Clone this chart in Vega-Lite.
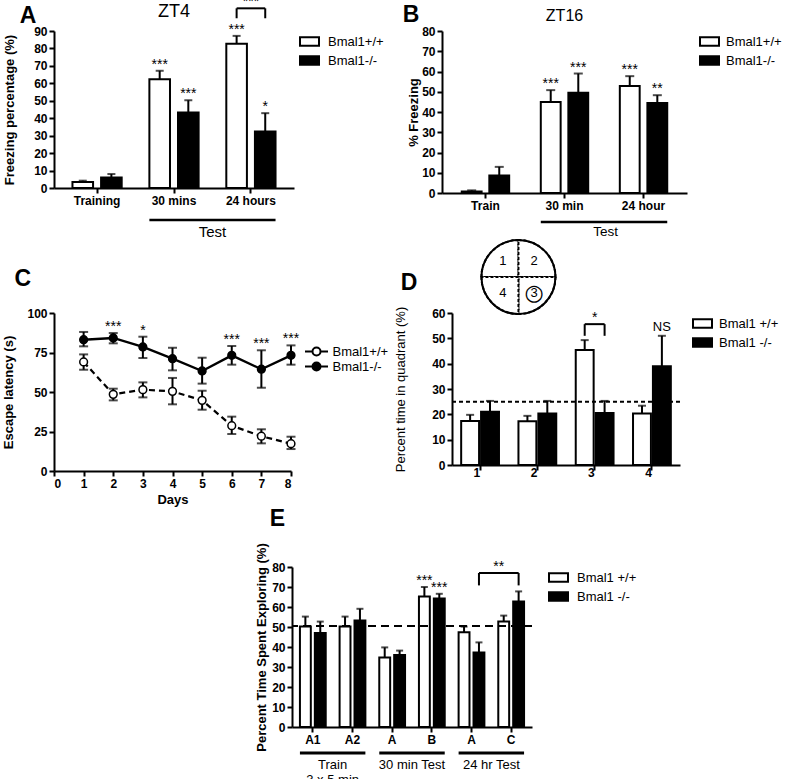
{
  "$schema": "https://vega.github.io/schema/vega-lite/v6.json",
  "background": "white",
  "padding": {"left": 2, "top": -5, "right": 0, "bottom": 0},
  "config": {
    "font": "Liberation Sans",
    "view": {"stroke": null},
    "mark": {"color": "#000"},
    "axis": {"domainColor": "#000", "domainWidth": 2, "tickColor": "#000", "tickWidth": 2, "tickSize": 5, "labelColor": "#000", "labelFontWeight": "bold", "labelFontSize": 12, "labelPadding": 2, "labelOverlap": false, "titleFontWeight": "bold", "titleFontSize": 13, "titleColor": "#000", "grid": false},
    "legend": {"labelFontSize": 13, "labelColor": "#000", "symbolStrokeColor": "#000", "symbolStrokeWidth": 2, "rowPadding": 0},
    "title": {"fontSize": 23, "fontWeight": "bold", "color": "#000", "anchor": "start", "frame": "bounds", "baseline": "alphabetic"},
    "text": {"color": "#000"}
  },
  "resolve": {"scale": {"fill": "independent", "xOffset": "independent", "theta": "independent"}, "legend": {"fill": "independent"}},
  "datasets": {
    "aBars": [
      {"g": "Training", "geno": "Bmal1+/+", "v": 3.5, "err": 4.2, "sig": ""},
      {"g": "Training", "geno": "Bmal1-/-", "v": 6, "err": 8, "sig": ""},
      {"g": "30 mins", "geno": "Bmal1+/+", "v": 62.3, "err": 67.2, "sig": "***"},
      {"g": "30 mins", "geno": "Bmal1-/-", "v": 43.3, "err": 50.3, "sig": "***"},
      {"g": "24 hours", "geno": "Bmal1+/+", "v": 82.7, "err": 87.2, "sig": "***"},
      {"g": "24 hours", "geno": "Bmal1-/-", "v": 32.4, "err": 42.9, "sig": "*"}
    ],
    "aLegs": [
      {"g": "24 hours", "geno": "Bmal1+/+", "top": 103, "bot": 97.3},
      {"g": "24 hours", "geno": "Bmal1-/-", "top": 103, "bot": 97.3}
    ],
    "aBrk": [{"g": "24 hours", "top": 103, "sig": "***"}],
    "aHead": [{"g": "30 mins", "y": 101, "label": "ZT4"}],
    "aGrp": [{"g1": "30 mins", "g2": "24 hours", "line": -18.3, "ly": -25.3, "label": "Test"}],
    "bBars": [
      {"g": "Train", "geno": "Bmal1+/+", "v": 0.8, "err": 1.3, "sig": ""},
      {"g": "Train", "geno": "Bmal1-/-", "v": 8.7, "err": 12.9, "sig": ""},
      {"g": "30 min", "geno": "Bmal1+/+", "v": 44.9, "err": 50.8, "sig": "***"},
      {"g": "30 min", "geno": "Bmal1-/-", "v": 49.5, "err": 59, "sig": "***"},
      {"g": "24 hour", "geno": "Bmal1+/+", "v": 52.8, "err": 57.7, "sig": "***"},
      {"g": "24 hour", "geno": "Bmal1-/-", "v": 44.5, "err": 48.3, "sig": "**"}
    ],
    "bHead": [{"g": "30 min", "y": 87.6, "label": "ZT16"}],
    "bGrp": [{"g1": "30 min", "g2": "24 hour", "line": -14.3, "ly": -19.3, "label": "Test"}],
    "cData": [
      {"day": 1, "geno": "Bmal1+/+", "v": 69, "lo": 64.1, "hi": 73.8, "sig": ""},
      {"day": 2, "geno": "Bmal1+/+", "v": 48.5, "lo": 44.7, "hi": 52.1, "sig": ""},
      {"day": 3, "geno": "Bmal1+/+", "v": 51.5, "lo": 46.6, "hi": 56.1, "sig": ""},
      {"day": 4, "geno": "Bmal1+/+", "v": 50.4, "lo": 42.2, "hi": 58.9, "sig": ""},
      {"day": 5, "geno": "Bmal1+/+", "v": 44.7, "lo": 38.8, "hi": 50.8, "sig": ""},
      {"day": 6, "geno": "Bmal1+/+", "v": 28.7, "lo": 23.4, "hi": 34.4, "sig": ""},
      {"day": 7, "geno": "Bmal1+/+", "v": 22, "lo": 17.5, "hi": 26.4, "sig": ""},
      {"day": 8, "geno": "Bmal1+/+", "v": 17.3, "lo": 13.9, "hi": 21.7, "sig": ""},
      {"day": 1, "geno": "Bmal1-/-", "v": 83.1, "lo": 78.9, "hi": 88, "sig": ""},
      {"day": 2, "geno": "Bmal1-/-", "v": 84.2, "lo": 80.8, "hi": 87.3, "sig": "***"},
      {"day": 3, "geno": "Bmal1-/-", "v": 78.5, "lo": 71.5, "hi": 85, "sig": "*"},
      {"day": 4, "geno": "Bmal1-/-", "v": 71.1, "lo": 63.7, "hi": 78, "sig": ""},
      {"day": 5, "geno": "Bmal1-/-", "v": 63.3, "lo": 55.3, "hi": 71.7, "sig": ""},
      {"day": 6, "geno": "Bmal1-/-", "v": 73.2, "lo": 67.3, "hi": 79.1, "sig": "***"},
      {"day": 7, "geno": "Bmal1-/-", "v": 64.4, "lo": 52.7, "hi": 76.4, "sig": "***"},
      {"day": 8, "geno": "Bmal1-/-", "v": 73.2, "lo": 67.3, "hi": 79.5, "sig": "***"}
    ],
    "quads": [
      {"q": "1", "v": 1}, {"q": "2", "v": 1}, {"q": "3", "v": 1}, {"q": "4", "v": 1}
    ],
    "dBars": [
      {"q": "1", "geno": "Bmal1 +/+", "v": 17.4, "err": 19.8, "sig": ""},
      {"q": "1", "geno": "Bmal1 -/-", "v": 21, "err": 25.3, "sig": ""},
      {"q": "2", "geno": "Bmal1 +/+", "v": 17.3, "err": 19.4, "sig": ""},
      {"q": "2", "geno": "Bmal1 -/-", "v": 20.3, "err": 25.3, "sig": ""},
      {"q": "3", "geno": "Bmal1 +/+", "v": 45.4, "err": 49.3, "sig": ""},
      {"q": "3", "geno": "Bmal1 -/-", "v": 20.5, "err": 25.3, "sig": ""},
      {"q": "4", "geno": "Bmal1 +/+", "v": 20.3, "err": 23.4, "sig": ""},
      {"q": "4", "geno": "Bmal1 -/-", "v": 39, "err": 51, "sig": "NS"}
    ],
    "dLegs": [
      {"q": "3", "geno": "Bmal1 +/+", "top": 55.6, "bot": 51},
      {"q": "3", "geno": "Bmal1 -/-", "top": 55.6, "bot": 51}
    ],
    "dBrk": [{"q": "3", "top": 55.6, "sig": "*"}],
    "dChance": [{"chance": 25}],
    "eBars": [
      {"g": "A1", "geno": "Bmal1 +/+", "v": 50.2, "err": 55.2, "sig": ""},
      {"g": "A1", "geno": "Bmal1 -/-", "v": 47, "err": 52.7, "sig": ""},
      {"g": "A2", "geno": "Bmal1 +/+", "v": 50.2, "err": 55.2, "sig": ""},
      {"g": "A2", "geno": "Bmal1 -/-", "v": 53.2, "err": 59.1, "sig": ""},
      {"g": "A_30", "geno": "Bmal1 +/+", "v": 34.8, "err": 39.8, "sig": ""},
      {"g": "A_30", "geno": "Bmal1 -/-", "v": 36, "err": 38.2, "sig": ""},
      {"g": "B", "geno": "Bmal1 +/+", "v": 65.3, "err": 70, "sig": "***"},
      {"g": "B", "geno": "Bmal1 -/-", "v": 64.3, "err": 66.6, "sig": "***"},
      {"g": "A_24", "geno": "Bmal1 +/+", "v": 47.4, "err": 50.2, "sig": ""},
      {"g": "A_24", "geno": "Bmal1 -/-", "v": 37.3, "err": 42.3, "sig": ""},
      {"g": "C", "geno": "Bmal1 +/+", "v": 52.7, "err": 55.7, "sig": ""},
      {"g": "C", "geno": "Bmal1 -/-", "v": 62.8, "err": 67.8, "sig": ""}
    ],
    "eLegs": [
      {"g": "A_24", "geno": "Bmal1 -/-", "top": 77, "bot": 70.8},
      {"g": "C", "geno": "Bmal1 -/-", "top": 77, "bot": 70.8}
    ],
    "eBrk": [{"g1": "A_24", "g2": "C", "top": 77, "sig": "**"}],
    "eChance": [{"chance": 50.5}],
    "eGrp": [
      {"g1": "A1", "g2": "A2", "line": -13, "ly": -15.8, "label": ["Train", "3 x 5 min"]},
      {"g1": "A_30", "g2": "B", "line": -13, "ly": -15.8, "label": ["30 min Test"]},
      {"g1": "A_24", "g2": "C", "line": -13, "ly": -15.8, "label": ["24 hr Test"]}
    ]
  },
  "vconcat": [
    {
      "resolve": {"scale": {"fill": "independent", "xOffset": "independent"}, "legend": {"fill": "independent"}},
      "hconcat": [
        {
          "title": {"text": "A", "dx": 16, "offset": -33},
          "width": 240, "height": 157,
          "layer": [
            {"data": {"name": "aBars"}, "mark": {"type": "bar", "stroke": "#000", "strokeWidth": 2},
             "encoding": {
               "x": {"field": "g", "type": "nominal", "scale": {"domain": ["Training", "30 mins", "24 hours"], "paddingInner": 0.36, "paddingOuter": 0.24}, "axis": {"title": null, "labelAngle": 0}},
               "xOffset": {"field": "geno", "type": "nominal", "scale": {"domain": ["Bmal1+/+", "Bmal1-/-"], "paddingInner": 0.28}},
               "y": {"field": "v", "type": "quantitative", "scale": {"domain": [0, 90], "nice": false}, "axis": {"title": "Freezing percentage (%)", "values": [0, 10, 20, 30, 40, 50, 60, 70, 80, 90], "tickCount": 20, "titlePadding": 17}},
               "fill": {"field": "geno", "type": "nominal", "scale": {"domain": ["Bmal1+/+", "Bmal1-/-"], "range": ["#ffffff", "#000000"]}, "legend": {"title": null, "orient": "right", "offset": 5, "symbolType": "M-1,-0.45H1V0.45H-1Z", "symbolSize": 361, "labelOffset": 8}}
             }},
            {"data": {"name": "aBars"}, "mark": {"type": "rule", "strokeWidth": 2},
             "encoding": {"x": {"field": "g", "type": "nominal"}, "xOffset": {"field": "geno", "type": "nominal"}, "y": {"field": "v", "type": "quantitative"}, "y2": {"field": "err"}}},
            {"data": {"name": "aBars"}, "mark": {"type": "tick", "orient": "horizontal", "size": 8, "thickness": 2},
             "encoding": {"x": {"field": "g", "type": "nominal"}, "xOffset": {"field": "geno", "type": "nominal"}, "y": {"field": "err", "type": "quantitative"}}},
            {"data": {"name": "aBars"}, "mark": {"type": "text", "fontSize": 14, "baseline": "alphabetic", "dy": -2, "color": "#000"},
             "encoding": {"x": {"field": "g", "type": "nominal"}, "xOffset": {"field": "geno", "type": "nominal"}, "y": {"field": "err", "type": "quantitative"}, "text": {"field": "sig"}}},
            {"data": {"name": "aLegs"}, "mark": {"type": "rule", "strokeWidth": 2},
             "encoding": {"x": {"field": "g", "type": "nominal"}, "xOffset": {"field": "geno", "type": "nominal"}, "y": {"field": "top", "type": "quantitative"}, "y2": {"field": "bot"}}},
            {"data": {"name": "aBrk"}, "mark": {"type": "rule", "strokeWidth": 2},
             "encoding": {"x": {"field": "g", "type": "nominal", "bandPosition": 0.21}, "x2": {"field": "g", "bandPosition": 0.79}, "y": {"field": "top", "type": "quantitative"}}},
            {"data": {"name": "aBrk"}, "mark": {"type": "text", "fontSize": 14, "baseline": "alphabetic", "dy": -2, "color": "#000"},
             "encoding": {"x": {"field": "g", "type": "nominal"}, "y": {"field": "top", "type": "quantitative"}, "text": {"field": "sig"}}},
            {"data": {"name": "aHead"}, "mark": {"type": "text", "fontSize": 18, "baseline": "middle", "color": "#000"},
             "encoding": {"x": {"field": "g", "type": "nominal"}, "y": {"field": "y", "type": "quantitative"}, "text": {"field": "label"}}},
            {"data": {"name": "aGrp"}, "mark": {"type": "rule", "strokeWidth": 2.5},
             "encoding": {"x": {"field": "g1", "type": "nominal", "bandPosition": 0}, "x2": {"field": "g2", "bandPosition": 1}, "y": {"field": "line", "type": "quantitative"}}},
            {"data": {"name": "aGrp"}, "mark": {"type": "text", "fontSize": 15, "baseline": "middle", "color": "#000"},
             "encoding": {"x": {"field": "g2", "type": "nominal", "bandPosition": -0.28}, "y": {"field": "ly", "type": "quantitative"}, "text": {"field": "label"}}}
          ]
        },
        {
          "title": {"text": "B", "dx": -5, "offset": -19},
          "width": 245, "height": 162,
          "layer": [
            {"data": {"name": "bBars"}, "mark": {"type": "bar", "stroke": "#000", "strokeWidth": 2},
             "encoding": {
               "x": {"field": "g", "type": "nominal", "scale": {"domain": ["Train", "30 min", "24 hour"], "paddingInner": 0.4, "paddingOuter": 0.25}, "axis": {"title": null, "labelAngle": 0}},
               "xOffset": {"field": "geno", "type": "nominal", "scale": {"domain": ["Bmal1+/+", "Bmal1-/-"], "paddingInner": 0.28}},
               "y": {"field": "v", "type": "quantitative", "scale": {"domain": [0, 80], "nice": false}, "axis": {"title": "% Freezing", "values": [0, 10, 20, 30, 40, 50, 60, 70, 80], "tickCount": 20, "titlePadding": 1}},
               "fill": {"field": "geno", "type": "nominal", "scale": {"domain": ["Bmal1+/+", "Bmal1-/-"], "range": ["#ffffff", "#000000"]}, "legend": {"title": null, "orient": "right", "offset": 12, "symbolType": "M-1,-0.45H1V0.45H-1Z", "symbolSize": 361, "labelOffset": 6}}
             }},
            {"data": {"name": "bBars"}, "mark": {"type": "rule", "strokeWidth": 2},
             "encoding": {"x": {"field": "g", "type": "nominal"}, "xOffset": {"field": "geno", "type": "nominal"}, "y": {"field": "v", "type": "quantitative"}, "y2": {"field": "err"}}},
            {"data": {"name": "bBars"}, "mark": {"type": "tick", "orient": "horizontal", "size": 9, "thickness": 2},
             "encoding": {"x": {"field": "g", "type": "nominal"}, "xOffset": {"field": "geno", "type": "nominal"}, "y": {"field": "err", "type": "quantitative"}}},
            {"data": {"name": "bBars"}, "mark": {"type": "text", "fontSize": 14, "baseline": "alphabetic", "dy": -2, "color": "#000"},
             "encoding": {"x": {"field": "g", "type": "nominal"}, "xOffset": {"field": "geno", "type": "nominal"}, "y": {"field": "err", "type": "quantitative"}, "text": {"field": "sig"}}},
            {"data": {"name": "bHead"}, "mark": {"type": "text", "fontSize": 16, "baseline": "middle", "color": "#000"},
             "encoding": {"x": {"field": "g", "type": "nominal"}, "y": {"field": "y", "type": "quantitative"}, "text": {"field": "label"}}},
            {"data": {"name": "bGrp"}, "mark": {"type": "rule", "strokeWidth": 2.5},
             "encoding": {"x": {"field": "g1", "type": "nominal", "bandPosition": 0}, "x2": {"field": "g2", "bandPosition": 1}, "y": {"field": "line", "type": "quantitative"}}},
            {"data": {"name": "bGrp"}, "mark": {"type": "text", "fontSize": 13.5, "baseline": "middle", "color": "#000"},
             "encoding": {"x": {"field": "g2", "type": "nominal", "bandPosition": -0.3}, "y": {"field": "ly", "type": "quantitative"}, "text": {"field": "label"}}}
          ]
        }
      ],
      "spacing": 18
    },
    {
      "resolve": {"scale": {"fill": "independent", "xOffset": "independent", "theta": "independent"}, "legend": {"fill": "independent"}},
      "vconcat": [
        {
          "resolve": {"scale": {"fill": "independent", "xOffset": "independent", "theta": "independent"}, "legend": {"fill": "independent"}},
          "hconcat": [
            {
              "title": {"text": "C", "dx": 12, "offset": 16},
              "width": 237, "height": 158,
              "data": {"name": "cData"},
              "layer": [
                {"mark": {"type": "rule", "strokeWidth": 2},
                 "encoding": {
                   "x": {"field": "day", "type": "quantitative", "scale": {"domain": [0, 8], "nice": false}, "axis": {"title": "Days", "values": [0, 1, 2, 3, 4, 5, 6, 7, 8], "format": "d", "tickCount": 20, "titlePadding": 4}},
                   "y": {"field": "lo", "type": "quantitative", "scale": {"domain": [0, 100], "nice": false}, "axis": {"title": "Escape latency (s)", "values": [0, 25, 50, 75, 100], "format": "d", "tickCount": 20, "titlePadding": 11.5}},
                   "y2": {"field": "hi"}}},
                {"mark": {"type": "tick", "orient": "horizontal", "size": 9, "thickness": 2},
                 "encoding": {"x": {"field": "day", "type": "quantitative"}, "y": {"field": "lo", "type": "quantitative"}}},
                {"mark": {"type": "tick", "orient": "horizontal", "size": 9, "thickness": 2},
                 "encoding": {"x": {"field": "day", "type": "quantitative"}, "y": {"field": "hi", "type": "quantitative"}}},
                {"transform": [{"filter": "datum.geno == 'Bmal1+/+'"}],
                 "mark": {"type": "line", "strokeWidth": 2.2, "strokeDash": [6, 4]},
                 "encoding": {"x": {"field": "day", "type": "quantitative"}, "y": {"field": "v", "type": "quantitative"}}},
                {"transform": [{"filter": "datum.geno == 'Bmal1-/-'"}],
                 "mark": {"type": "line", "strokeWidth": 2.4},
                 "encoding": {"x": {"field": "day", "type": "quantitative"}, "y": {"field": "v", "type": "quantitative"}}},
                {"mark": {"type": "point", "filled": true, "size": 60, "stroke": "#000", "strokeWidth": 1.5, "opacity": 1},
                 "encoding": {"x": {"field": "day", "type": "quantitative"}, "y": {"field": "v", "type": "quantitative"},
                   "fill": {"field": "geno", "type": "nominal", "scale": {"domain": ["Bmal1+/+", "Bmal1-/-"], "range": ["#ffffff", "#000000"]},
                     "legend": {"title": null, "orient": "none", "legendX": 256, "legendY": 32, "rowPadding": -5, "symbolType": "M-2.3,0H-0.8M0.8,0H2.3M0.8,0A0.8,0.8,0,1,1,-0.8,0A0.8,0.8,0,1,1,0.8,0", "symbolSize": 100, "labelOffset": 9.5}}}},
                {"mark": {"type": "text", "fontSize": 14, "baseline": "alphabetic", "dy": -2, "color": "#000"},
                 "encoding": {"x": {"field": "day", "type": "quantitative"}, "y": {"field": "hi", "type": "quantitative"}, "text": {"field": "sig"}}}
              ]
            },
            {
              "title": {"text": "D", "dx": 6, "offset": -59},
              "width": 228, "height": 152,
              "layer": [
                {"data": {"name": "quads"},
                 "mark": {"type": "arc", "outerRadius": 37, "fill": "#ffffff", "stroke": "#000", "strokeWidth": 2, "strokeDash": [3, 2]},
                 "encoding": {"x": {"datum": "2", "type": "nominal", "bandPosition": 0}, "y": {"datum": 74.2, "type": "quantitative"},
                   "theta": {"field": "v", "type": "quantitative", "stack": true, "scale": {"range": [-1.5708, 4.7124]}}, "order": {"field": "q", "type": "ordinal"}}},
                {"data": {"name": "quads"},
                 "mark": {"type": "arc", "outerRadius": 37, "fillOpacity": 0, "stroke": "#000", "strokeWidth": 2},
                 "encoding": {"x": {"datum": "2", "type": "nominal", "bandPosition": 0}, "y": {"datum": 74.2, "type": "quantitative"},
                   "theta": {"aggregate": "sum", "field": "v", "type": "quantitative"}}},
                {"data": {"name": "quads"},
                 "mark": {"type": "text", "radius": 22, "fontSize": 13, "baseline": "middle", "color": "#000"},
                 "encoding": {"x": {"datum": "2", "type": "nominal", "bandPosition": 0}, "y": {"datum": 74.2, "type": "quantitative"},
                   "theta": {"field": "v", "type": "quantitative", "stack": true}, "order": {"field": "q", "type": "ordinal"}, "text": {"field": "q"}}},
                {"data": {"name": "quads"},
                 "mark": {"type": "text", "radius": 22, "fontSize": 22, "font": "DejaVu Sans", "baseline": "middle", "color": "#000"},
                 "encoding": {"x": {"datum": "2", "type": "nominal", "bandPosition": 0}, "y": {"datum": 74.2, "type": "quantitative"},
                   "theta": {"field": "v", "type": "quantitative", "stack": true}, "order": {"field": "q", "type": "ordinal"}, "text": {"condition": {"test": "datum.q == '3'", "value": "○"}, "value": ""}}},
                {"data": {"name": "dBars"}, "mark": {"type": "bar", "stroke": "#000", "strokeWidth": 2},
                 "encoding": {
                   "x": {"field": "q", "type": "nominal", "scale": {"domain": ["1", "2", "3", "4"], "paddingInner": 0.34, "paddingOuter": 0.16}, "axis": {"title": null, "labelAngle": 0}},
                   "xOffset": {"field": "geno", "type": "nominal", "scale": {"domain": ["Bmal1 +/+", "Bmal1 -/-"], "paddingInner": 0.1}},
                   "y": {"field": "v", "type": "quantitative", "scale": {"domain": [0, 60], "nice": false}, "axis": {"title": "Percent time in quadrant (%)", "titleFontWeight": "normal", "values": [0, 10, 20, 30, 40, 50, 60], "tickCount": 20, "titlePadding": 24}},
                   "fill": {"field": "geno", "type": "nominal", "scale": {"domain": ["Bmal1 +/+", "Bmal1 -/-"], "range": ["#ffffff", "#000000"]}, "legend": {"title": null, "orient": "right", "offset": 12, "symbolType": "M-1,-0.45H1V0.45H-1Z", "symbolSize": 361, "labelOffset": 6}}
                 }},
                {"data": {"name": "dBars"}, "mark": {"type": "rule", "strokeWidth": 2},
                 "encoding": {"x": {"field": "q", "type": "nominal"}, "xOffset": {"field": "geno", "type": "nominal"}, "y": {"field": "v", "type": "quantitative"}, "y2": {"field": "err"}}},
                {"data": {"name": "dBars"}, "mark": {"type": "tick", "orient": "horizontal", "size": 8, "thickness": 2},
                 "encoding": {"x": {"field": "q", "type": "nominal"}, "xOffset": {"field": "geno", "type": "nominal"}, "y": {"field": "err", "type": "quantitative"}}},
                {"data": {"name": "dBars"}, "mark": {"type": "text", "fontSize": 13, "baseline": "alphabetic", "dy": -5, "color": "#000"},
                 "encoding": {"x": {"field": "q", "type": "nominal"}, "xOffset": {"field": "geno", "type": "nominal"}, "y": {"field": "err", "type": "quantitative"}, "text": {"field": "sig"}}},
                {"data": {"name": "dChance"}, "mark": {"type": "rule", "strokeWidth": 2, "strokeDash": [4, 3]},
                 "encoding": {"y": {"field": "chance", "type": "quantitative"}}},
                {"data": {"name": "dLegs"}, "mark": {"type": "rule", "strokeWidth": 2},
                 "encoding": {"x": {"field": "q", "type": "nominal"}, "xOffset": {"field": "geno", "type": "nominal"}, "y": {"field": "top", "type": "quantitative"}, "y2": {"field": "bot"}}},
                {"data": {"name": "dBrk"}, "mark": {"type": "rule", "strokeWidth": 2},
                 "encoding": {"x": {"field": "q", "type": "nominal", "bandPosition": 0.237}, "x2": {"field": "q", "bandPosition": 0.763}, "y": {"field": "top", "type": "quantitative"}}},
                {"data": {"name": "dBrk"}, "mark": {"type": "text", "fontSize": 14, "baseline": "alphabetic", "dy": -2, "color": "#000"},
                 "encoding": {"x": {"field": "q", "type": "nominal"}, "y": {"field": "top", "type": "quantitative"}, "text": {"field": "sig"}}}
              ]
            }
          ],
          "spacing": 5
        },
        {
          "resolve": {"scale": {"fill": "independent", "xOffset": "independent"}, "legend": {"fill": "independent"}},
          "hconcat": [
            {"width": 201, "height": 10, "data": {"values": []}, "mark": "point"},
            {
              "title": {"text": "E", "dx": 14, "offset": 12},
              "width": 240, "height": 160,
              "layer": [
                {"data": {"name": "eBars"}, "mark": {"type": "bar", "stroke": "#000", "strokeWidth": 2},
                 "encoding": {
                   "x": {"field": "g", "type": "nominal", "scale": {"domain": ["A1", "A2", "A_30", "B", "A_24", "C"], "paddingInner": 0.35, "paddingOuter": 0.2}, "axis": {"title": null, "labelAngle": 0, "labelExpr": "split(datum.label, '_')[0]"}},
                   "xOffset": {"field": "geno", "type": "nominal", "scale": {"domain": ["Bmal1 +/+", "Bmal1 -/-"], "paddingInner": 0.27}},
                   "y": {"field": "v", "type": "quantitative", "scale": {"domain": [0, 80], "nice": false}, "axis": {"title": "Percent Time Spent Exploring (%)", "values": [0, 10, 20, 30, 40, 50, 60, 70, 80], "tickCount": 20, "titlePadding": 3}},
                   "fill": {"field": "geno", "type": "nominal", "scale": {"domain": ["Bmal1 +/+", "Bmal1 -/-"], "range": ["#ffffff", "#000000"]}, "legend": {"title": null, "orient": "right", "offset": 16, "symbolType": "M-1,-0.45H1V0.45H-1Z", "symbolSize": 361, "labelOffset": 8}}
                 }},
                {"data": {"name": "eBars"}, "mark": {"type": "rule", "strokeWidth": 2},
                 "encoding": {"x": {"field": "g", "type": "nominal"}, "xOffset": {"field": "geno", "type": "nominal"}, "y": {"field": "v", "type": "quantitative"}, "y2": {"field": "err"}}},
                {"data": {"name": "eBars"}, "mark": {"type": "tick", "orient": "horizontal", "size": 7, "thickness": 2},
                 "encoding": {"x": {"field": "g", "type": "nominal"}, "xOffset": {"field": "geno", "type": "nominal"}, "y": {"field": "err", "type": "quantitative"}}},
                {"data": {"name": "eBars"}, "mark": {"type": "text", "fontSize": 14, "baseline": "alphabetic", "dy": -2, "color": "#000"},
                 "encoding": {"x": {"field": "g", "type": "nominal"}, "xOffset": {"field": "geno", "type": "nominal"}, "y": {"field": "err", "type": "quantitative"}, "text": {"field": "sig"}}},
                {"data": {"name": "eChance"}, "mark": {"type": "rule", "strokeWidth": 2, "strokeDash": [8, 5]},
                 "encoding": {"y": {"field": "chance", "type": "quantitative"}}},
                {"data": {"name": "eLegs"}, "mark": {"type": "rule", "strokeWidth": 2},
                 "encoding": {"x": {"field": "g", "type": "nominal"}, "xOffset": {"field": "geno", "type": "nominal"}, "y": {"field": "top", "type": "quantitative"}, "y2": {"field": "bot"}}},
                {"data": {"name": "eBrk"}, "mark": {"type": "rule", "strokeWidth": 2},
                 "encoding": {"x": {"field": "g1", "type": "nominal", "bandPosition": 0.79}, "x2": {"field": "g2", "bandPosition": 0.79}, "y": {"field": "top", "type": "quantitative"}}},
                {"data": {"name": "eBrk"}, "mark": {"type": "text", "fontSize": 14, "baseline": "alphabetic", "dy": -2, "color": "#000"},
                 "encoding": {"x": {"field": "g2", "type": "nominal", "bandPosition": 0.02}, "y": {"field": "top", "type": "quantitative"}, "text": {"field": "sig"}}},
                {"data": {"name": "eGrp"}, "mark": {"type": "rule", "strokeWidth": 3},
                 "encoding": {"x": {"field": "g1", "type": "nominal", "bandPosition": 0}, "x2": {"field": "g2", "bandPosition": 1}, "y": {"field": "line", "type": "quantitative"}}},
                {"data": {"name": "eGrp"}, "mark": {"type": "text", "fontSize": 13, "baseline": "top", "lineHeight": 15, "color": "#000"},
                 "encoding": {"x": {"field": "g2", "type": "nominal", "bandPosition": -0.27}, "y": {"field": "ly", "type": "quantitative"}, "text": {"field": "label"}}}
              ]
            }
          ],
          "spacing": 0
        }
      ],
      "spacing": 1
    }
  ],
  "spacing": -5
}
